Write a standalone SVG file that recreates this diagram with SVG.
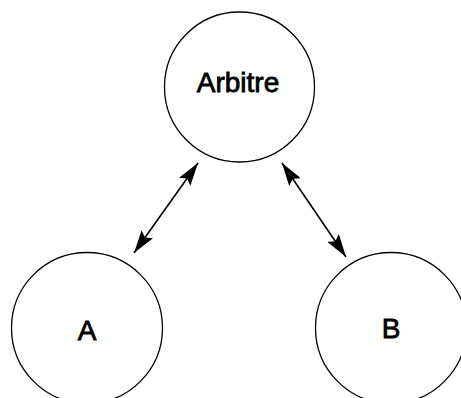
<svg xmlns="http://www.w3.org/2000/svg" width="461" height="398" viewBox="0 0 461 398">
<style>
.node{fill:#fff;stroke:#000;stroke-width:1.3}
.lbl{font-family:"Liberation Sans",Arial,sans-serif;font-size:28px;text-anchor:middle;fill:#000;stroke:#000;stroke-width:0.8}
.conn{stroke:#000;stroke-width:1.6;fill:none}
</style>
<defs>
<marker id="ah" markerUnits="userSpaceOnUse" markerWidth="24" markerHeight="14" refX="23" refY="7" orient="auto-start-reverse">
<path d="M0,0 L23,7 L0,14 L4,7 Z" fill="#000"/>
</marker>
</defs>
<g id="arbitre"><circle class="node" cx="239.5" cy="87" r="75"/><text class="lbl" x="238" y="92">Arbitre</text></g>
<g id="a"><circle class="node" cx="87" cy="328" r="75.5"/><text class="lbl" x="87" y="340">A</text></g>
<g id="b"><circle class="node" cx="391" cy="328" r="75.5"/><text class="lbl" x="391" y="338">B</text></g>
<g id="connectors">
<line class="conn" x1="198" y1="163" x2="134" y2="253" marker-start="url(#ah)" marker-end="url(#ah)"/>
<line class="conn" x1="282" y1="163" x2="346" y2="257" marker-start="url(#ah)" marker-end="url(#ah)"/>
</g>
</svg>
